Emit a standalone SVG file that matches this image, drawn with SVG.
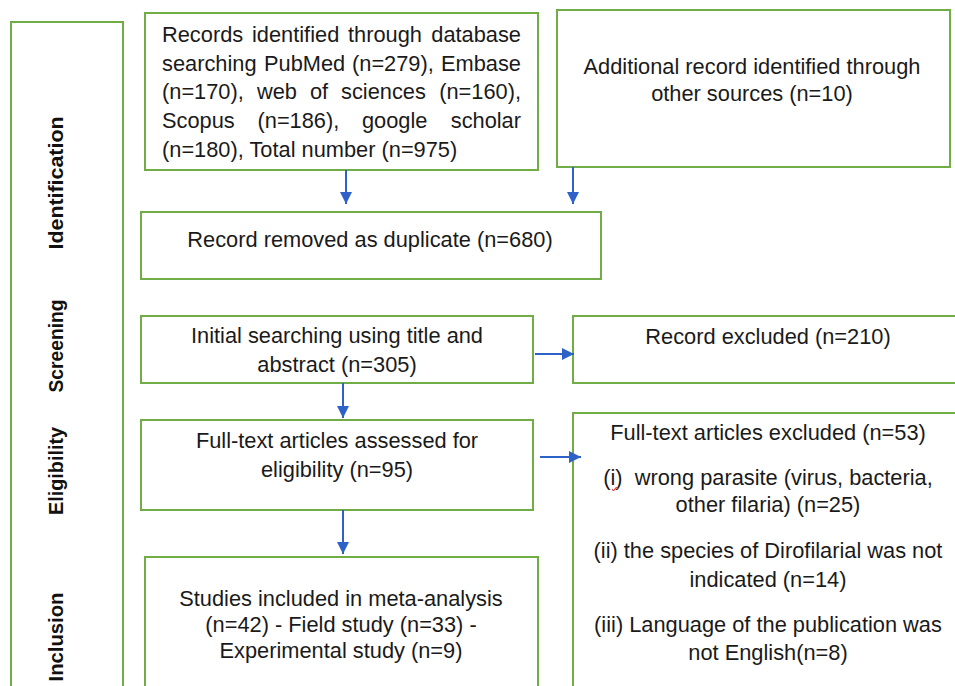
<svg xmlns="http://www.w3.org/2000/svg" width="955" height="686" viewBox="0 0 955 686">
<style>
.box{fill:#ffffff;stroke:#70AD47;stroke-width:2}
.t{font-family:"Liberation Sans",Arial,sans-serif;font-size:21.8px;fill:#1a1a1a}
.c{text-anchor:middle}
.e{text-anchor:end}
.v{font-family:"Liberation Sans",Arial,sans-serif;font-size:21px;font-weight:bold;fill:#111;text-anchor:middle}
.ln{stroke:#2F62C8;stroke-width:2;fill:none}
</style>
<defs>
<marker id="ah" viewBox="0 0 10 10" refX="10" refY="5" markerWidth="6" markerHeight="6" markerUnits="strokeWidth" orient="auto">
<path d="M0,0 L10,5 L0,10 z" fill="#2F62C8"/>
</marker>
</defs>
<rect width="955" height="686" fill="#ffffff"/>

<g id="phases">
<rect class="box" x="11" y="22" width="112" height="680"/>
<text class="v" transform="translate(63,183) rotate(-90)" textLength="133" lengthAdjust="spacingAndGlyphs">Identification</text>
<text class="v" transform="translate(63,346) rotate(-90)" textLength="93" lengthAdjust="spacingAndGlyphs">Screening</text>
<text class="v" transform="translate(63,471) rotate(-90)" textLength="88" lengthAdjust="spacingAndGlyphs">Eligibility</text>
<text class="v" transform="translate(63,637) rotate(-90)" textLength="89" lengthAdjust="spacingAndGlyphs">Inclusion</text>
</g>

<g id="records">
<rect class="box" x="145" y="13" width="393" height="157"/>
<text class="t" x="162" y="42">Records</text>
<text class="t" x="252" y="42">identified</text>
<text class="t" x="348" y="42">through</text>
<text class="t e" x="521" y="42">database</text>
<text class="t" x="162" y="70.5">searching</text>
<text class="t" x="264" y="70.5">PubMed</text>
<text class="t" x="352" y="70.5">(n=279),</text>
<text class="t e" x="521" y="70.5">Embase</text>
<text class="t" x="162" y="99">(n=170),</text>
<text class="t" x="257" y="99">web</text>
<text class="t" x="310" y="99">of</text>
<text class="t" x="341" y="99">sciences</text>
<text class="t e" x="521" y="99">(n=160),</text>
<text class="t" x="162" y="128">Scopus</text>
<text class="t" x="257.5" y="128">(n=186),</text>
<text class="t" x="362" y="128">google</text>
<text class="t e" x="521" y="128">scholar</text>
<text class="t" x="162" y="157">(n=180), Total number (n=975)</text>
</g>

<g id="additional">
<rect class="box" x="557" y="10" width="393" height="157"/>
<text class="t c" x="752" y="74">Additional record identified through</text>
<text class="t c" x="752" y="101">other sources (n=10)</text>
</g>

<g id="duplicate">
<rect class="box" x="141" y="212" width="460" height="67"/>
<text class="t c" x="370" y="247">Record removed as duplicate (n=680)</text>
</g>

<g id="initial">
<rect class="box" x="141" y="316" width="392" height="67"/>
<text class="t c" x="337" y="343">Initial searching using title and</text>
<text class="t c" x="337" y="372">abstract (n=305)</text>
</g>

<g id="excluded">
<rect class="box" x="573" y="316" width="391" height="67"/>
<text class="t c" x="768" y="344">Record excluded (n=210)</text>
</g>

<g id="fulltext">
<rect class="box" x="141" y="420" width="392" height="90"/>
<text class="t c" x="337" y="448">Full-text articles assessed for</text>
<text class="t c" x="337" y="477">eligibility (n=95)</text>
</g>

<g id="fulltext-excluded">
<rect class="box" x="573" y="413" width="391" height="290"/>
<text class="t c" x="768" y="440">Full-text articles excluded (n=53)</text>
<text class="t c" x="768" y="485" xml:space="preserve">(i)  wrong parasite (virus, bacteria,</text>
<text class="t c" x="768" y="512">other filaria) (n=25)</text>
<text class="t c" x="768" y="558">(ii) the species of Dirofilarial was not</text>
<text class="t c" x="768" y="587">indicated (n=14)</text>
<text class="t c" x="768" y="632">(iii) Language of the publication was</text>
<text class="t c" x="768" y="660">not English(n=8)</text>
<path d="M612,489 q1.5,3 3,0 q1.5,-3 3,0" stroke="#E03030" stroke-width="1.2" fill="none"/>
</g>

<g id="included">
<rect class="box" x="145" y="557" width="393" height="150"/>
<text class="t c" x="341" y="606">Studies included in meta-analysis</text>
<text class="t c" x="341" y="632">(n=42) - Field study (n=33) -</text>
<text class="t c" x="341" y="658">Experimental study (n=9)</text>
</g>

<g id="connectors">
<line class="ln" x1="346" y1="170" x2="346" y2="204" marker-end="url(#ah)"/>
<line class="ln" x1="573" y1="167" x2="573" y2="204" marker-end="url(#ah)"/>
<line class="ln" x1="343" y1="383" x2="343" y2="418" marker-end="url(#ah)"/>
<line class="ln" x1="343" y1="510" x2="343" y2="554" marker-end="url(#ah)"/>
<line class="ln" x1="535" y1="354" x2="574" y2="354" marker-end="url(#ah)"/>
<line class="ln" x1="540" y1="457" x2="581" y2="457" marker-end="url(#ah)"/>
</g>
</svg>
